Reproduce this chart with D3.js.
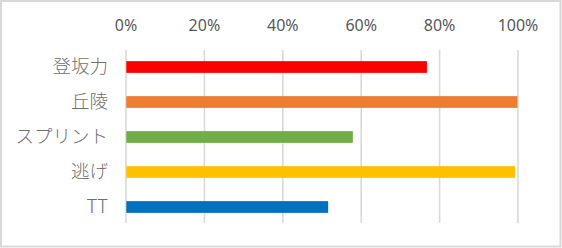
<!DOCTYPE html>
<html>
  <head>
    <meta charset="utf-8">
    <title>能力チャート</title>
    <style>
    body { margin: 0; background: #fff; }
    .axis text { font-family: "Noto Sans", sans-serif; font-size: 16px; fill: #595959; }
    .axis line { stroke: #d9d9d9; stroke-width: 1.6; }
    .cat { font-family: "Noto Sans CJK JP", sans-serif; font-size: 18.5px; font-weight: 300; fill: #6f6f6f; }
    </style>
  </head>
  <body>
    <script src="https://d3js.org/d3.v7.min.js"></script>
<script>
// data
var categories = ['登坂力', '丘陵', 'スプリント', '逃げ', 'TT'];
var values = [0.769, 1.0, 0.58, 0.994, 0.517];
var colors = ['#ff0000', '#ed7d31', '#70ad47', '#ffc000', '#0070c0'];
var ticks = [0, 0.2, 0.4, 0.6, 0.8, 1.0];

var width = 562, height = 248;

var svg = d3.select('body')
  .append('svg')
    .attr('width', width)
    .attr('height', height);

// outer frame
svg.append('rect')
  .attr('x', 1).attr('y', 1)
  .attr('width', 559.5).attr('height', 245.5)
  .attr('fill', '#fff')
  .attr('stroke', '#d9d9d9')
  .attr('stroke-width', 2);

var x = d3.scaleLinear()
  .domain([0, 1])
  .range([125.5, 517.5]);

var y = d3.scaleBand()
  .domain(categories)
  .range([49.5, 224.5])
  .paddingInner(0.665)
  .paddingOuter(0.3325);

var plotTop = 50, plotH = 173;

var xAxis = d3.axisTop(x)
  .tickValues(ticks)
  .tickFormat(d3.format('.0%'))
  .tickSizeInner(-plotH)
  .tickSizeOuter(0)
  .tickPadding(19.5);

svg.append('g')
  .attr('class', 'axis')
  .attr('transform', 'translate(0,' + plotTop + ')')
  .call(xAxis)
  .call(function(g) { g.select('.domain').remove(); });

// bars
svg.selectAll('rect.bar')
  .data(categories)
  .enter().append('rect')
    .attr('class', 'bar')
    .attr('x', x(0) + 0.8)
    .attr('y', function(d) { return y(d); })
    .attr('height', y.bandwidth())
    .attr('width', function(d, i) { return x(values[i]) - x(0) - 0.8; })
    .attr('fill', function(d, i) { return colors[i]; });

// category labels
svg.selectAll('text.cat')
  .data(categories)
  .enter().append('text')
    .attr('class', 'cat')
    .attr('x', 108)
    .attr('y', function(d) { return y(d) + y.bandwidth() / 2; })
    .attr('dy', '0.35em')
    .attr('text-anchor', 'end')
    .text(function(d) { return d; });
</script>
  </body>
</html>
